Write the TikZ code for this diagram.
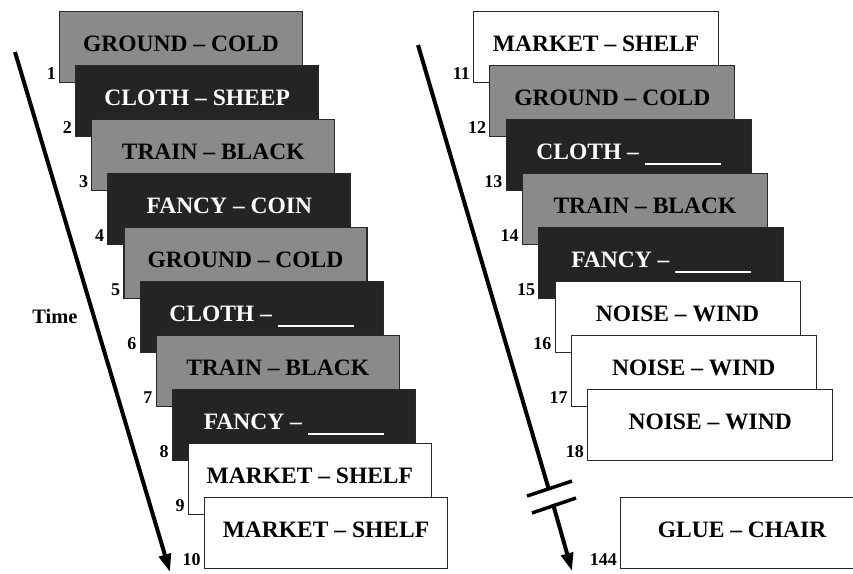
\documentclass[tikz,border=0pt]{standalone}
\usepackage{fontspec}
\newfontfamily\cardfont{Liberation Serif}
\usetikzlibrary{arrows.meta}
\definecolor{cardgray}{RGB}{138,138,138}
\definecolor{carddark}{RGB}{36,36,36}
\definecolor{cardedge}{RGB}{40,40,40}
\newcommand\blankline{\rule[-6pt]{76pt}{1.8pt}}
\begin{document}
\begin{tikzpicture}[x=1pt,y=-1pt,
  card/.style={draw=cardedge, line width=1.1pt, anchor=north west, inner sep=0pt, minimum height=71pt},
  cardG/.style={card, fill=cardgray},
  cardD/.style={card, fill=carddark},
  cardW/.style={card, fill=white},
  word/.style={anchor=base, inner sep=0pt, font=\cardfont\bfseries\fontsize{23.5}{28}\selectfont},
  wordG/.style={word, text=black},
  wordD/.style={word, text=white},
  wordW/.style={word, text=black},
  num/.style={anchor=base east, inner sep=0pt, font=\cardfont\bfseries\fontsize{18}{20}\selectfont},
  timelabel/.style={anchor=base, inner sep=0pt, font=\cardfont\bfseries\fontsize{20.5}{24}\selectfont},
  timeline/.style={line width=4pt},
  timearrow/.style={line width=4pt, -{Triangle[length=18pt,width=12pt]}},
  breakmark/.style={line width=3.5pt}
]
\useasboundingbox (0,0) rectangle (853,573);
\clip (0,0) rectangle (853,573);
\fill[white] (0,0) rectangle (853,573);

% left column
\foreach \i/\sty/\txt in {1/G/GROUND – COLD, 2/D/CLOTH – SHEEP, 3/G/TRAIN – BLACK, 4/D/FANCY – COIN, 5/G/GROUND – COLD, 6/D/CLOTH – \blankline, 7/G/TRAIN – BLACK, 8/D/FANCY – \blankline, 9/W/MARKET – SHELF, 10/W/MARKET – SHELF}{
  \pgfmathsetmacro\bx{59+16.1*(\i-1)}
  \pgfmathsetmacro\by{11+54*(\i-1)}
  \node[card\sty, minimum width=243pt] (L\i) at (\bx,\by) {};
  \node[word\sty] (Lt\i) at ([yshift=-40pt]L\i.north) {\txt};
  \node[num] (Ln\i) at ([xshift=-3pt,yshift=4pt]L\i.south west) {\i};
}

% right column
\foreach \i/\sty/\txt in {11/W/MARKET – SHELF, 12/G/GROUND – COLD, 13/D/CLOTH – \blankline, 14/G/TRAIN – BLACK, 15/D/FANCY – \blankline, 16/W/NOISE – WIND, 17/W/NOISE – WIND, 18/W/NOISE – WIND}{
  \pgfmathsetmacro\bx{473+16.3*(\i-11)}
  \pgfmathsetmacro\by{11+54*(\i-11)}
  \node[card\sty, minimum width=245pt] (R\i) at (\bx,\by) {};
  \node[word\sty] (Rt\i) at ([yshift=-40pt]R\i.north) {\txt};
  \node[num] (Rn\i) at ([xshift=-3pt,yshift=4pt]R\i.south west) {\i};
}

% last card (runs past the right edge)
\node[cardW, minimum width=243pt] (R144) at (620,497) {};
\node[wordW] (Rt144) at ([yshift=-40pt]R144.north) {GLUE – CHAIR};
\node[num] (Rn144) at ([xshift=-3pt,yshift=4pt]R144.south west) {144};

% time arrows
\node[timelabel] (time) at (55,323) {Time};
\coordinate (tl0) at (15,52);
\coordinate (tl1) at (170,572);
\draw[timearrow] (tl0) -- (tl1);

\coordinate (tr0) at (418,45);
\coordinate (trb1) at (549,490);
\coordinate (trb2) at (553,504);
\coordinate (tr1) at (572,571);
\draw[timeline] (tr0) -- (trb1);
\draw[timearrow] (trb2) -- (tr1);
\coordinate (bm1a) at (527,496);
\coordinate (bm1b) at (572,481);
\coordinate (bm2a) at (532,513);
\coordinate (bm2b) at (576,498);
\draw[breakmark] (bm1a) -- (bm1b);
\draw[breakmark] (bm2a) -- (bm2b);
\end{tikzpicture}
\end{document}
